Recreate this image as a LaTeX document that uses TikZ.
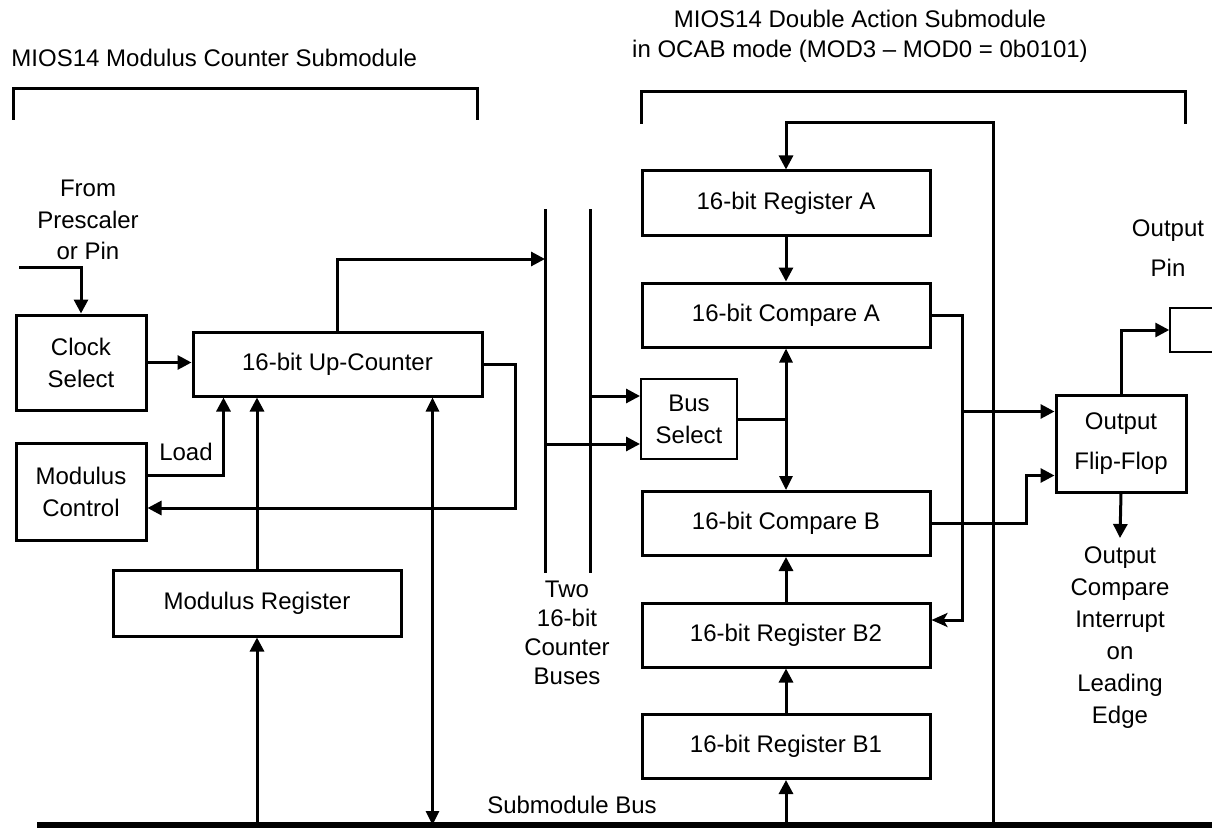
\documentclass[tikz,border=0pt]{standalone}
\usepackage{fontspec}
\setmainfont{Liberation Sans}
\usetikzlibrary{arrows.meta, calc}

\begin{document}
\begin{tikzpicture}[x=1pt, y=-1pt, line width=3pt,
    every node/.style={font=\fontsize{24}{32}\selectfont, align=center},
    blk/.style={draw, line width=3pt, minimum width=288pt, minimum height=64pt, inner sep=0pt},
    sblk/.style={draw, line width=3pt, minimum width=130pt, minimum height=96pt, inner sep=0pt},
    lbl/.style={inner sep=0pt},
    arr/.style={-{Triangle[length=14pt, width=14pt]}},
    darr/.style={{Triangle[length=14pt, width=13pt]}-{Triangle[length=14pt, width=13pt]}},
    stl/.style={-{Stealth[length=16pt, width=14pt, inset=4pt]}}]
    \useasboundingbox (0,0) rectangle (1212,829);

    \node[anchor=west, lbl] (ttlL) at (10,58) {MIOS14 Modulus Counter Submodule};
    \node[font=\fontsize{24}{30}\selectfont] (ttlR) at (860,36) {MIOS14 Double Action Submodule\\in OCAB mode (MOD3 – MOD0 = 0b0101)};
    \draw (13,120) |- (477,89) -- (477,120);
    \draw (641,124) |- (1185,92) -- (1185,124);

    \node[lbl, font=\fontsize{24}{31.5}\selectfont] (src) at (88,220) {From\\Prescaler\\or Pin};
    \coordinate (inp) at (19,267);
    \node[sblk, minimum height=95pt] (clk) at (81,362.5) {Clock\\Select};
    \node[sblk, minimum height=97pt] (modc) at (81,491.5) {Modulus\\Control};
    \node[blk, minimum width=289pt] (cnt) at (337.5,364) {16-bit Up-Counter};
    \node[blk, minimum height=66pt] (modr) at (257,603) {Modulus Register};
    \node[lbl] (load) at (186,452) {Load};

    \coordinate (busAt) at (545,209);
    \coordinate (busAb) at (545,573);
    \coordinate (busBt) at (590,209);
    \coordinate (busBb) at (590,573);
    \coordinate (busAin) at (545,259);
    \node[lbl, font=\fontsize{24}{29}\selectfont] (busLbl) at (567,633) {Two\\16-bit\\Counter\\Buses};

    \node[blk] (regA) at (786,203) {16-bit Register A};
    \node[blk] (cmpA) at (786,315) {16-bit Compare A};
    \node[draw, line width=2pt, minimum width=96pt, minimum height=80pt, inner sep=0pt] (bsel) at (689,419) {Bus\\Select};
    \node[blk] (cmpB) at (786,523.5) {16-bit Compare B};
    \node[blk] (regB2) at (786,635) {16-bit Register B2};
    \node[blk] (regB1) at (786,746.5) {16-bit Register B1};
    \node[draw, line width=3pt, minimum width=130pt, minimum height=97pt, inner sep=0pt,
        font=\fontsize{24}{40}\selectfont] (ff) at (1121,443.5) {Output\\Flip-Flop};
    \node[draw, line width=1.5pt, minimum width=80pt, minimum height=44pt] (pin) at (1210,330) {};
    \node[lbl, font=\fontsize{24}{40}\selectfont] (pinLbl) at (1168,248) {Output\\Pin};
    \node[anchor=north, inner sep=7pt] (intr) at (1120,538) {Output\\Compare\\Interrupt\\on\\Leading\\Edge};

    \node[lbl] (sbLbl) at (572,805) {Submodule Bus};
    \coordinate (sbL) at (37,825);
    \coordinate (sbR) at (1212,825);
    \coordinate (fb) at (993,123);

    \draw (busAt) -- (busAb);
    \draw (busBt) -- (busBb);
    \draw[line width=6pt] (sbL) -- (sbR);

    \draw[arr] (inp) -| (clk.north);
    \draw[arr] (clk.east) -- (clk.east -| cnt.west);
    \draw[arr] (cnt.north) |- (busAin);
    \draw[arr] (cnt.east) -- ++(32,0) |- ([yshift=-16.5pt]modc.east);
    \coordinate (ldin) at ([xshift=32pt]cnt.south west);
    \draw[arr] ([yshift=16.5pt]modc.east) -| (ldin);
    \draw[arr] (modr.north) -- (modr.north |- cnt.south);
    \draw[arr] (modr.south |- sbL) -- (modr.south);
    \coordinate (bid) at ([xshift=241pt]cnt.south west);
    \draw[darr] (bid) -- (bid |- sbL);

    \coordinate (bsA) at ([yshift=-25pt]bsel.west);
    \coordinate (bsB) at ([yshift=23pt]bsel.west);
    \draw[arr] (bsB -| busBt) -- (bsB);
    \draw[arr] (bsA -| busAt) -- (bsA);
    \draw (bsel.east) -- (bsel.east -| cmpA.south);
    \draw[darr] (cmpA.south) -- (cmpB.north);
    \draw[arr] (regA.south) -- (cmpA.north);
    \draw[arr] (regB1.north) -- (regB2.south);
    \draw[arr] (regB2.north) -- (cmpB.south);
    \draw[arr] (regB1.south |- sbL) -- (regB1.south);
    \draw[arr] (fb |- sbL) -- (fb) -| (regA.north);

    \coordinate (splitA) at ($(cmpA.east)+(31,0)$);
    \draw[stl] (cmpA.east) -- (splitA) |- ([yshift=15pt]regB2.east);
    \coordinate (ffA) at ([yshift=32pt]ff.west);
    \coordinate (ffB) at ([yshift=-32pt]ff.west);
    \draw[arr] (ffA -| splitA) -- (ffA);
    \draw[arr] (cmpB.east) -- ++(95,0) |- (ffB);
    \draw[arr] (ff.north) |- (pin.west);
    \draw[arr] (ff.south) -- (intr.north);
\end{tikzpicture}
\end{document}
